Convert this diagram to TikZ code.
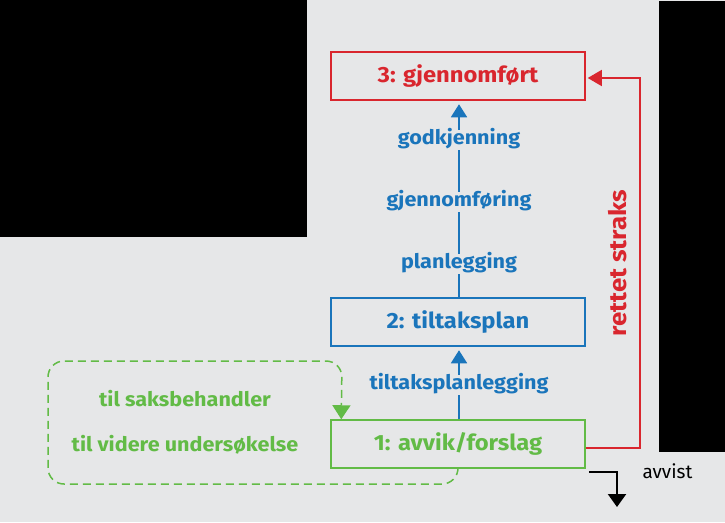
\documentclass[tikz,border=0pt]{standalone}
\usepackage{fontspec}
\setmainfont{Fira Sans}
\newfontfamily\wideff{Fira Sans}[FakeStretch=1.08]
\usetikzlibrary{arrows.meta}
\definecolor{bgc}{HTML}{E6E7E8}
\definecolor{cred}{HTML}{D9262E}
\definecolor{cblue}{HTML}{1A75BB}
\definecolor{cgreen}{HTML}{62BB46}
\tikzset{
  stagebox/.style={draw, line width=1.5pt, minimum width=254pt, minimum height=48pt, inner sep=0pt, font=\wideff\fontsize{22}{26}\selectfont\bfseries},
  bluelabel/.style={text=cblue, font=\wideff\fontsize{20}{23}\selectfont\bfseries, inner xsep=2pt, inner ysep=1pt, text height=13pt, text depth=5pt},
  greenlabel/.style={text=cgreen, font=\wideff\fontsize{20}{23}\selectfont\bfseries},
  blueline/.style={draw=cblue, line width=1.8pt},
  bluearrow/.style={blueline, -{Triangle[length=13pt,width=16pt]}, shorten >=3.5pt},
}
\begin{document}
\begin{tikzpicture}[x=1pt,y=-1pt]
\fill[bgc] (0,0) rectangle (725,522);
\useasboundingbox (0,0) rectangle (725,522);
\fill[black] (0,0) rectangle (307,237);
\fill[black] (659,1) rectangle (725,452);

\node[stagebox, draw=cred, text=cred] (n3) at (458,76) {3: gjennomført};
\node[stagebox, draw=cblue, text=cblue] (n2) at (458,322) {2: tiltaksplan};
\node[stagebox, draw=cgreen, text=cgreen] (n1) at (458,444) {1: avvik/forslag};

\node[bluelabel] (l1) at (459,140) {godkjenning};
\node[bluelabel] (l2) at (459,202) {gjennomføring};
\node[bluelabel] (l3) at (459,264) {planlegging};
\node[bluelabel] (l4) at (459,385) {tiltaksplanlegging};

\draw[blueline] (n1.north -| l4) -- (l4.south);
\draw[bluearrow] (l4.north) -- (n2.south -| l4);
\draw[blueline] (n2.north -| l3) -- (l3.south);
\draw[blueline] (l3.north) -- (l2.south);
\draw[blueline] (l2.north) -- (l1.south);
\draw[bluearrow] (l1.north) -- (n3.south -| l1);

\coordinate (rc) at (640,78);
\draw[cred, line width=1.5pt, -{Triangle[length=14pt,width=16pt]}, shorten >=2pt]
  ([yshift=-4pt]n1.east) -| (rc) -- ([yshift=-2pt]n3.east);
\node[text=cred, font=\wideff\fontsize{24}{27}\selectfont\bfseries, rotate=90] (rs) at (618,263) {rettet straks};

\coordinate (av) at (617,507);
\draw[black, line width=2.2pt, -{Triangle[length=13pt,width=18pt]}]
  ([xshift=3pt,yshift=-3pt]n1.south east) -| (av);
\node[text=black, font=\fontsize{19}{22}\selectfont, anchor=west] (avt) at (639,471) {avvist};

\node[greenlabel] (g1) at (185,399) {til saksbehandler};
\node[greenlabel] (g2) at (185,445) {til videre undersøkelse};

\draw[cgreen, line width=1.5pt, dash pattern=on 8pt off 5pt, rounded corners=16pt,
  -{Triangle[length=14pt,width=18pt]}]
  (n1.south) |- (48,484) |- (342,361) -- ([xshift=11pt]n1.north west);
\end{tikzpicture}
\end{document}
